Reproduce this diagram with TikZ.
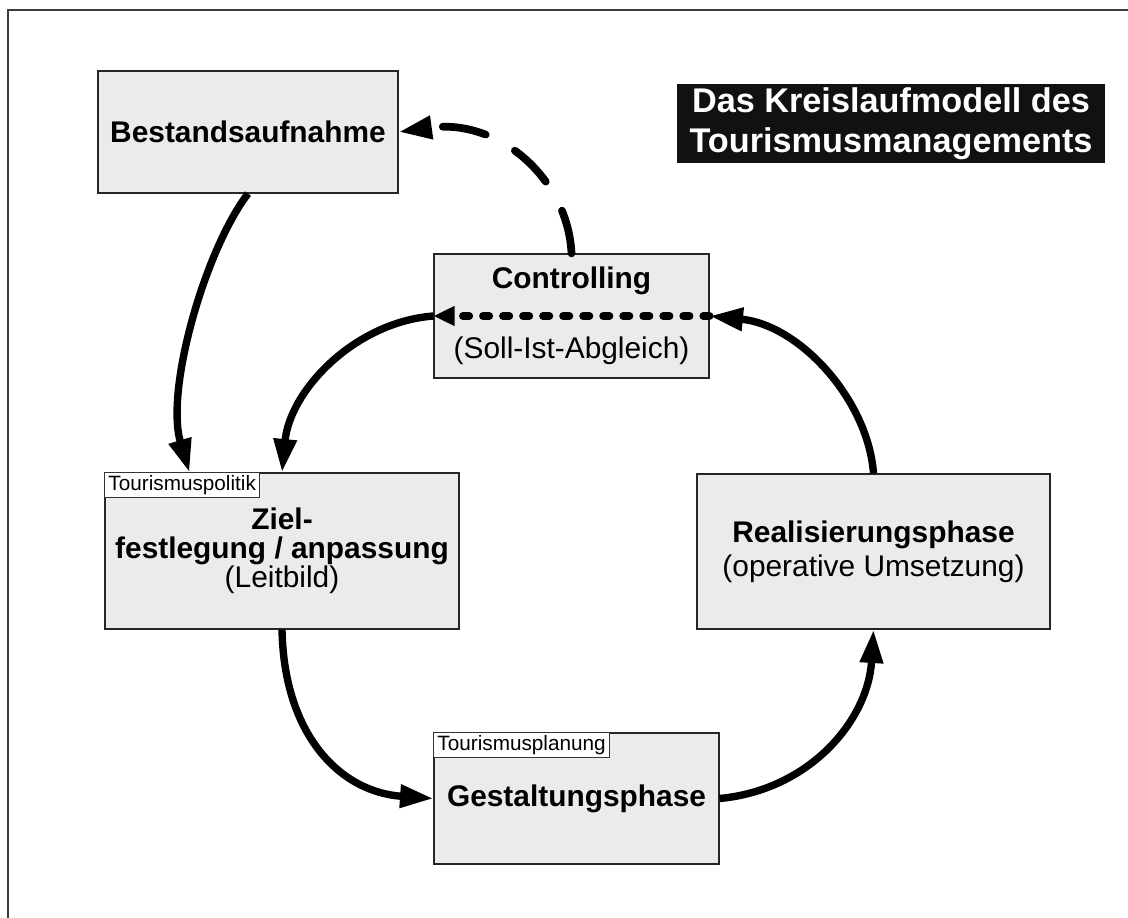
\documentclass[tikz,border=0pt]{standalone}
\usepackage{fontspec}
\setmainfont{Liberation Sans}
\definecolor{BoxGray}{RGB}{235,235,235}
\definecolor{TitleBlack}{RGB}{17,17,17}
\definecolor{FrameGray}{RGB}{60,60,60}
\usepackage{tikz}
\usetikzlibrary{arrows.meta, calc}

\begin{document}
\begin{tikzpicture}[
  x=0.02cm, y=-0.02cm,
  phasebox/.style={
    draw=black!85,
    fill=BoxGray,
    line width=0.7pt,
    align=center,
    inner sep=0pt,
    font=\fontsize{17}{18}\selectfont
  },
  tagbox/.style={
    draw=black!80,
    fill=white,
    line width=0.6pt,
    anchor=north west,
    inner xsep=2pt,
    inner ysep=0pt,
    minimum height=0.5cm,
    font=\fontsize{11.8}{12}\selectfont
  },
  cyclearrow/.style={
    line width=4.2pt,
    -{Triangle[length=19pt, width=12.5pt]}
  },
  checkarrow/.style={
    line width=4.4pt,
    line cap=round,
    dash pattern=on 3.6pt off 7.8pt,
    -{Triangle[length=12pt, width=10.5pt]}
  },
  returnarrow/.style={
    line width=4.4pt,
    line cap=round,
    dash pattern=on 25pt off 19pt,
    -{Triangle[length=19pt, width=12.5pt]}
  }
]
\useasboundingbox (0,0) rectangle (1128,918);

% outer frame
\draw[FrameGray, line width=1pt] (8,918) -- (8,10) -- (1128,10);

% title
\node[
  fill=TitleBlack,
  text=white,
  align=center,
  inner sep=0pt,
  minimum width=8.56cm,
  minimum height=1.58cm,
  font=\bfseries\fontsize{19.5}{22.5}\selectfont
] (title) at (891,123.5) {Das Kreislaufmodell des\\Tourismusmanagements};

% phases
\node[phasebox, minimum width=6cm, minimum height=2.44cm] (best) at (248,132)
  {\textbf{Bestandsaufnahme}};
\node[phasebox, minimum width=5.5cm, minimum height=2.48cm] (ctrl) at (571.5,316)
  {\textbf{Controlling}\\[22pt](Soll-Ist-Abgleich)};
\node[phasebox, minimum width=7.08cm, minimum height=3.12cm,
  font=\fontsize{17}{16.5}\selectfont] (ziel) at (282,551)
  {\textbf{Ziel-}\\\textbf{festlegung / anpassung}\\(Leitbild)};
\node[phasebox, minimum width=5.7cm, minimum height=2.62cm] (gest) at (576.5,798.5)
  {\textbf{Gestaltungsphase}};
\node[phasebox, minimum width=7.06cm, minimum height=3.1cm,
  font=\fontsize{17}{19.5}\selectfont] (real) at (873.5,551.5)
  {\textbf{Realisierungsphase}\\(operative Umsetzung)};

% tags
\node[tagbox] (polTag) at (ziel.north west) {Tourismuspolitik};
\node[tagbox] (planTag) at (gest.north west) {Tourismusplanung};

% cycle
\draw[cyclearrow] (best.south) .. controls (205,250) and (165,390) .. ($(ziel.north west)+(85,0)$);
\draw[cyclearrow] (ziel.south) .. controls (284,735) and (340,792) .. (gest.west);
\draw[cyclearrow] (gest.east) .. controls (810,790) and (868,720) .. (real.south);
\draw[cyclearrow] (real.north) .. controls (868,400) and (800,325) .. (ctrl.east);
\draw[checkarrow] (ctrl.east) -- (ctrl.west);
\draw[cyclearrow] (ctrl.west) .. controls (355,322) and (290,390) .. (ziel.north);
\draw[returnarrow] (ctrl.north) .. controls (568,180) and (500,118) .. (best.east);
\end{tikzpicture}
\end{document}
